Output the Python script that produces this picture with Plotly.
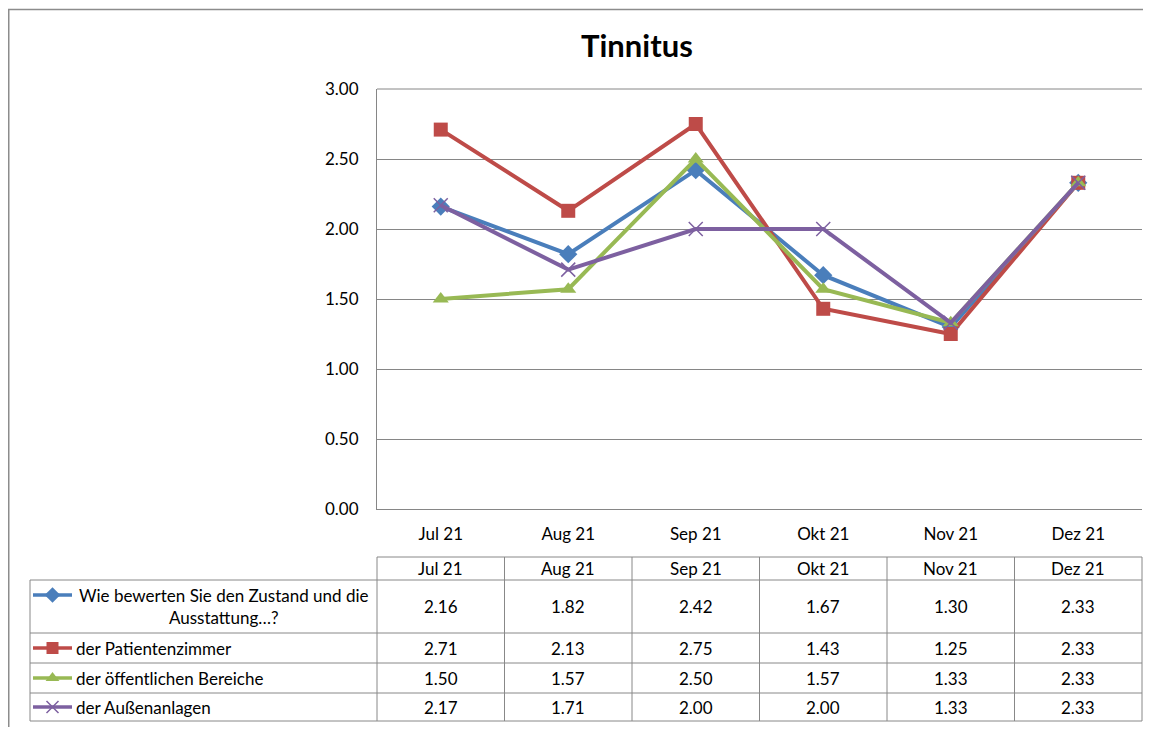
import plotly.graph_objects as go

# ---------------- data ----------------
months = ["Jul 21", "Aug 21", "Sep 21", "Okt 21", "Nov 21", "Dez 21"]
series_names = [
    "Wie bewerten Sie den Zustand und die<br>Ausstattung…?",
    "der Patientenzimmer",
    "der öffentlichen Bereiche",
    "der Außenanlagen",
]
zustand = [2.16, 1.82, 2.42, 1.67, 1.30, 2.33]
patientenzimmer = [2.71, 2.13, 2.75, 1.43, 1.25, 2.33]
oeffentlich = [1.50, 1.57, 2.50, 1.57, 1.33, 2.33]
aussen = [2.17, 1.71, 2.00, 2.00, 1.33, 2.33]
y_ticks = [0, 0.5, 1.0, 1.5, 2.0, 2.5, 3.0]

# ---------------- styles ----------------
OFF = 8                      # page body margin
W, H = 1151 - 2 * OFF, 735 - 2 * OFF
FONT = "Lato"
FS = 17
GRID = "#868686"
colors = ["#4A7EBB", "#BE4B48", "#98B954", "#7D60A0"]
markers = [
    dict(symbol="diamond", size=14),
    dict(symbol="square", size=14),
    dict(symbol="triangle-up", size=14),
    dict(symbol="x-thin", size=14, line=dict(width=1.5)),
]
all_series = [zustand, patientenzimmer, oeffentlich, aussen]

# target (screen) pixel layout
PL, PR, PT, PB = 377, 1142, 89, 509
def fx(x):   # screen px -> figure px
    return x - OFF
def fy(y):
    return y - OFF
def px(x):
    return fx(x) / W
def py(y):
    return 1 - fy(y) / H

fig = go.Figure()

for name, vals, c, m in zip(series_names, all_series, colors, markers):
    mk = dict(m)
    mk["color"] = c
    if "line" in mk:
        mk["line"] = dict(mk["line"], color=c)
    fig.add_trace(go.Scatter(
        x=months, y=vals, mode="lines+markers", name=name.replace("<br>", " "),
        line=dict(color=c, width=4), marker=mk, showlegend=False,
        cliponaxis=False,
    ))

# ---------------- data table ----------------
col_w = (PR - PL) / len(months)
col_x = [PL + i * col_w for i in range(len(months) + 1)]
LEG_L = 30
HDR_T = 557
row_b = [580, 633, 663, 693, 721]

shapes = []
line_style = dict(color="#888888", width=1)
shapes.append(dict(type="line", xref="paper", yref="paper", x0=px(PL), x1=px(PR), y0=py(HDR_T), y1=py(HDR_T), line=line_style))
for yb in row_b:
    shapes.append(dict(type="line", xref="paper", yref="paper", x0=px(LEG_L), x1=px(PR), y0=py(yb), y1=py(yb), line=line_style))
for xc in col_x:
    shapes.append(dict(type="line", xref="paper", yref="paper", x0=px(xc), x1=px(xc), y0=py(HDR_T), y1=py(row_b[-1]), line=line_style))
shapes.append(dict(type="line", xref="paper", yref="paper", x0=px(LEG_L), x1=px(LEG_L), y0=py(row_b[0]), y1=py(row_b[-1]), line=line_style))
# outer chart border (top and left visible)
shapes.append(dict(type="line", xref="paper", yref="paper", x0=0, x1=1, y0=py(9.5), y1=py(9.5),
                   line=dict(color="#8C8C8C", width=1.5)))
shapes.append(dict(type="line", xref="paper", yref="paper", x0=0.75 / W, x1=0.75 / W, y0=0, y1=py(9.5),
                   line=dict(color="#8C8C8C", width=1.5)))
# top gridline at 3.00
shapes.append(dict(type="line", xref="paper", yref="paper", x0=px(PL), x1=px(PR), y0=py(PT), y1=py(PT),
                   line=dict(color=GRID, width=1), layer="below"))

annotations = []
tfont = dict(family=FONT, size=FS, color="#000000")
for i, mth in enumerate(months):
    cx = (col_x[i] + col_x[i + 1]) / 2
    annotations.append(dict(x=px(cx), y=py((HDR_T + row_b[0]) / 2), xref="paper", yref="paper",
                            text=mth, showarrow=False, font=tfont, xanchor="center", yanchor="middle"))
    for r, vals in enumerate(all_series):
        ymid = (row_b[r] + row_b[r + 1]) / 2
        annotations.append(dict(x=px(cx), y=py(ymid), xref="paper", yref="paper",
                                text=f"{vals[i]:.2f}", showarrow=False, font=tfont,
                                xanchor="center", yanchor="middle"))

key_x = [33, 72]
for r, (name, c, m) in enumerate(zip(series_names, colors, markers)):
    ymid = (row_b[r] + row_b[r + 1]) / 2
    if r == 0:
        annotations.append(dict(x=px(224), y=py(ymid), xref="paper", yref="paper",
                                text=name, showarrow=False, font=tfont, align="center",
                                xanchor="center", yanchor="middle"))
        key_y = ymid - 11.5
    else:
        annotations.append(dict(x=px(74), y=py(ymid), xref="paper", yref="paper",
                                text=name, showarrow=False, font=tfont, align="left",
                                xanchor="left", yanchor="middle"))
        key_y = ymid
    mk = dict(m)
    mk["color"] = c
    mk["size"] = mk["size"] - 2
    if "line" in mk:
        mk["line"] = dict(mk["line"], color=c)
    fig.add_trace(go.Scatter(
        x=[fx(key_x[0]), fx(key_x[1])], y=[fy(key_y), fy(key_y)], mode="lines",
        line=dict(color=c, width=3.5),
        xaxis="x2", yaxis="y2", showlegend=False, hoverinfo="skip"))
    fig.add_trace(go.Scatter(
        x=[fx((key_x[0] + key_x[1]) / 2)], y=[fy(key_y)], mode="markers", marker=mk,
        xaxis="x2", yaxis="y2", showlegend=False, hoverinfo="skip"))

annotations.append(dict(x=px(637), y=py(45), xref="paper", yref="paper", text="<b>Tinnitus</b>",
                        showarrow=False, font=dict(family=FONT, size=31, color="#000000"),
                        xanchor="center", yanchor="middle"))

fig.update_layout(
    template="none",
    width=W, height=H,
    margin=dict(l=0, r=0, t=0, b=0, pad=0, autoexpand=False),
    paper_bgcolor="white", plot_bgcolor="rgba(0,0,0,0)",
    showlegend=False,
    font=dict(family=FONT, size=FS, color="#000000"),
    xaxis=dict(domain=[px(PL), px(PR)], type="category", range=[-0.5, len(months) - 0.5],
               showgrid=False, showline=True, linecolor=GRID, linewidth=1, zeroline=False,
               ticks="", ticklabelstandoff=10, tickfont=dict(family=FONT, size=FS), automargin=False),
    yaxis=dict(domain=[py(PB), py(PT)], range=[0, 3], tickvals=y_ticks, tickformat=".2f",
               showgrid=True, gridcolor=GRID, gridwidth=1, showline=True, linecolor=GRID,
               linewidth=1, zeroline=False, ticks="", ticklabelstandoff=14,
               tickfont=dict(family=FONT, size=FS), automargin=False),
    xaxis2=dict(domain=[0, 1], range=[0, W], visible=False, fixedrange=True, anchor="y2", automargin=False),
    yaxis2=dict(domain=[0, 1], range=[H, 0], visible=False, fixedrange=True, anchor="x2", automargin=False),
    shapes=shapes,
    annotations=annotations,
)

fig.write_html("out.html")
